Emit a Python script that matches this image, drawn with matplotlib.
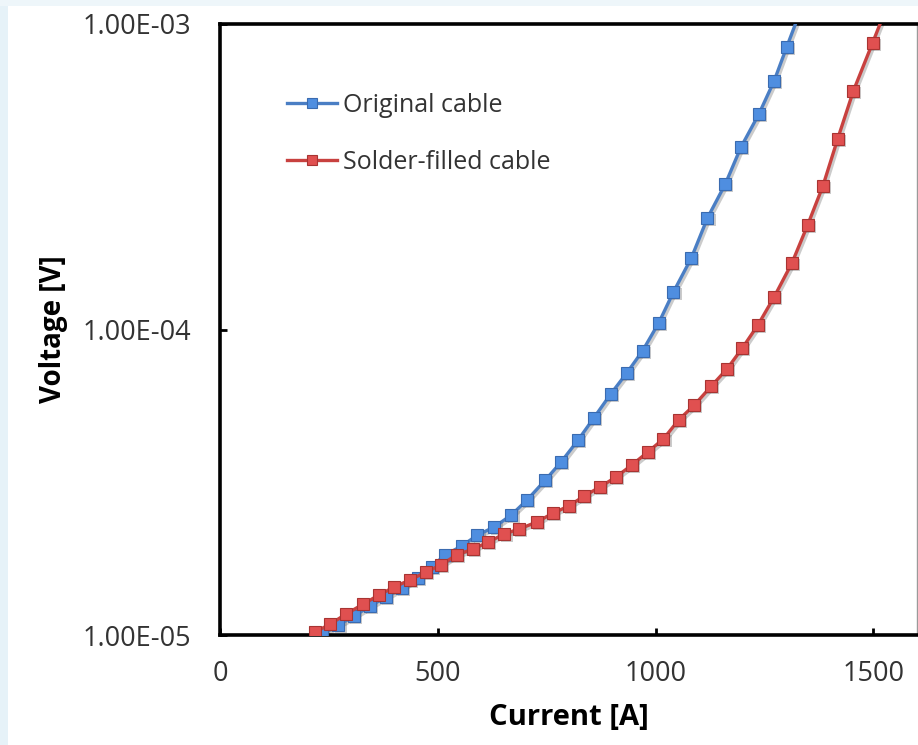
import matplotlib
matplotlib.use("Agg")
import matplotlib.pyplot as plt
import matplotlib.transforms as mtransforms
from matplotlib.patches import Rectangle
from matplotlib.ticker import FixedLocator, FuncFormatter

# ------------------ data ------------------
orig_current = [235, 272, 308, 345, 381, 418, 454, 486, 516, 555, 591, 630, 669, 705,
                747, 783, 822, 858, 897, 934, 970, 1007, 1041, 1082, 1119, 1160, 1196,
                1237, 1272, 1301, 1333]
orig_voltage = [1.007e-5, 1.079e-5, 1.154e-5, 1.245e-5, 1.331e-5, 1.425e-5, 1.537e-5,
                1.670e-5, 1.827e-5, 1.955e-5, 2.124e-5, 2.258e-5, 2.472e-5, 2.767e-5,
                3.216e-5, 3.683e-5, 4.345e-5, 5.13e-5, 6.15e-5, 7.21e-5, 8.51e-5,
                1.050e-4, 1.327e-4, 1.714e-4, 2.317e-4, 2.994e-4, 3.955e-4, 5.07e-4,
                6.51e-4, 8.41e-4, 1.11e-3]

solder_current = [219, 253, 290, 329, 365, 400, 436, 473, 507, 543, 580, 616, 653, 687,
                  728, 765, 801, 836, 872, 909, 945, 982, 1018, 1053, 1089, 1128, 1164,
                  1199, 1235, 1272, 1313, 1349, 1384, 1418, 1454, 1498, 1541]
solder_voltage = [1.023e-5, 1.086e-5, 1.172e-5, 1.263e-5, 1.352e-5, 1.436e-5, 1.514e-5,
                  1.607e-5, 1.695e-5, 1.828e-5, 1.910e-5, 2.015e-5, 2.143e-5, 2.224e-5,
                  2.345e-5, 2.508e-5, 2.644e-5, 2.851e-5, 3.049e-5, 3.289e-5, 3.597e-5,
                  3.970e-5, 4.385e-5, 5.058e-5, 5.66e-5, 6.53e-5, 7.43e-5, 8.69e-5,
                  1.035e-4, 1.277e-4, 1.651e-4, 2.198e-4, 2.95e-4, 4.21e-4, 6.04e-4,
                  8.67e-4, 1.24e-3]

x_ticks = [0, 500, 1000, 1500]
y_ticks = [1e-5, 1e-4, 1e-3]

plt.rcParams['font.family'] = ['Open Sans', 'DejaVu Sans']

# ------------------ figure ------------------
fig = plt.figure(figsize=(9.18, 7.45), dpi=100, facecolor="white")

# light slide background at the left and top edges
fig.patches.append(Rectangle((0, 0), 8 / 918, 1, transform=fig.transFigure,
                             facecolor="#e6f2f8", edgecolor="none", zorder=-5))
fig.patches.append(Rectangle((0, 1 - 6 / 745), 1, 6 / 745, transform=fig.transFigure,
                             facecolor="#eef6fa", edgecolor="none", zorder=-5))

ax = fig.add_axes([220 / 918, 1 - 635 / 745, 697 / 918, 611 / 745])

# soft drop shadow under both series
shadow_tr = mtransforms.offset_copy(ax.transData, fig=fig, x=1.5, y=-1.5, units="points")
for xs, ys in [(orig_current, orig_voltage), (solder_current, solder_voltage)]:
    ax.plot(xs, ys, color="#555555", alpha=0.3, lw=2.4, marker="s", ms=9, mew=0,
            transform=shadow_tr, zorder=2)

ax.plot(orig_current, orig_voltage, color="#4a7ec4", lw=2.4, marker="s", ms=9,
        mfc="#4f8ee0", mec="#3a6bb0", mew=0.8, label="Original cable", zorder=3)
ax.plot(solder_current, solder_voltage, color="#c8413f", lw=2.4, marker="s", ms=9,
        mfc="#e05050", mec="#a83432", mew=0.8, label="Solder-filled cable", zorder=4)

ax.set_yscale("log")
ax.set_xlim(0, 1600)
ax.set_ylim(1e-5, 1e-3)

ax.xaxis.set_major_locator(FixedLocator(x_ticks))
ax.yaxis.set_major_locator(FixedLocator(y_ticks))
ax.yaxis.set_minor_locator(FixedLocator([]))
ax.yaxis.set_major_formatter(FuncFormatter(lambda v, p: f"{v:.2E}"))

ax.tick_params(axis="both", direction="in", length=5, width=2, colors="black",
               labelsize=19.5, labelcolor="#333333")
ax.tick_params(axis="x", pad=18)
ax.tick_params(axis="y", pad=21)

for side in ["left", "bottom", "top"]:
    ax.spines[side].set_linewidth(2.6)
    ax.spines[side].set_color("black")
ax.spines["right"].set_linewidth(1)
ax.spines["right"].set_color("#9a9a9a")

ax.set_xlabel("Current [A]", fontsize=21, fontweight="bold", labelpad=11)
ax.set_ylabel("Voltage [V]", fontsize=20, fontweight="bold", labelpad=10)

leg = ax.legend(loc="upper left", bbox_to_anchor=(0.082, 0.904), frameon=False,
                fontsize=18, handlelength=2.0, handletextpad=0.25, labelspacing=1.28,
                markerscale=0.75, borderaxespad=0)
for t in leg.get_texts():
    t.set_color("#333333")

fig.savefig("out.png", dpi=100, facecolor=fig.get_facecolor())
